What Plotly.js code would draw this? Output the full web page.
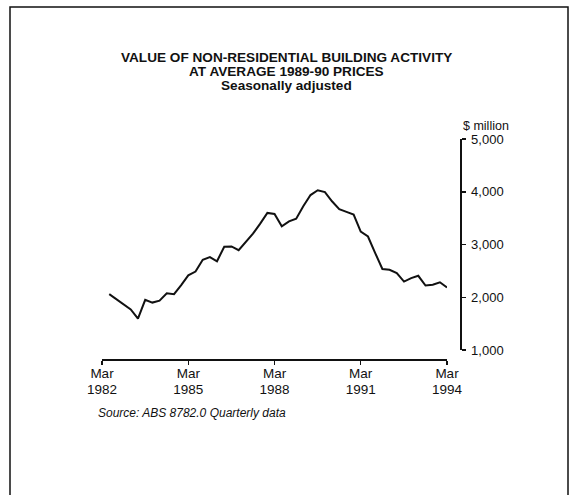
<!DOCTYPE html>
<html>
<head>
<meta charset="utf-8">
<script src="https://cdn.plot.ly/plotly-3.0.1.min.js"></script>
<style>
  html, body { margin: 0; padding: 0; background: #fff; }
  #chart { width: 573px; height: 495px; }
</style>
</head>
<body>
<div id="chart"></div>
<script>
// Quarterly dates (Jun 1982 .. Mar 1994)
const quarters = [
  '1982-06','1982-09','1982-12',
  '1983-03','1983-06','1983-09','1983-12',
  '1984-03','1984-06','1984-09','1984-12',
  '1985-03','1985-06','1985-09','1985-12',
  '1986-03','1986-06','1986-09','1986-12',
  '1987-03','1987-06','1987-09','1987-12',
  '1988-03','1988-06','1988-09','1988-12',
  '1989-03','1989-06','1989-09','1989-12',
  '1990-03','1990-06','1990-09','1990-12',
  '1991-03','1991-06','1991-09','1991-12',
  '1992-03','1992-06','1992-09','1992-12',
  '1993-03','1993-06','1993-09','1993-12',
  '1994-03'
];
// Value of non-residential building activity, $ million (1989-90 prices)
const values = [
  2059, 1964, 1855,
  1770, 1595, 1951, 1899,
  1935, 2074, 2059, 2230,
  2416, 2487, 2711, 2762,
  2682, 2958, 2964, 2892,
  3053, 3205, 3395, 3599,
  3580, 3344, 3439, 3490,
  3724, 3937, 4028, 3994,
  3819, 3671, 3618, 3566,
  3243, 3152, 2838, 2536,
  2521, 2458, 2298, 2363,
  2407, 2222, 2236, 2283,
  2184
];
const xTickVals = ['1982-03','1985-03','1988-03','1991-03','1994-03'];
const xTickMonths = ['Mar','Mar','Mar','Mar','Mar'];
const xTickYears = ['1982','1985','1988','1991','1994'];
const yTickVals = [1000, 2000, 3000, 4000, 5000];
const titleLines = [
  '<b>VALUE OF NON-RESIDENTIAL BUILDING ACTIVITY</b>',
  '<b>AT AVERAGE 1989-90 PRICES</b>',
  '<b>Seasonally adjusted</b>'
];

const ink = '#111111';
const font = 'Liberation Sans, Arial, Helvetica, sans-serif';

// geometry helpers (pixel -> paper fraction)
const L = 102, R = 460, T = 139, B = 400;
const px = x => (x - L) / (R - L);
const py = y => (B - y) / (B - T);

const trace = {
  x: quarters.map(q => q + '-01'),
  y: values,
  type: 'scatter',
  mode: 'lines',
  line: { color: ink, width: 2 },
  hoverinfo: 'x+y'
};
// invisible helper traces so the label-only x axes are drawn
const helper = ax => ({
  x: [xTickVals[0] + '-01'],
  y: [null],
  xaxis: ax,
  type: 'scatter',
  mode: 'lines',
  hoverinfo: 'skip'
});

const xCommon = {
  type: 'date',
  domain: [0, px(447)],
  anchor: 'free',
  range: ['1982-03-01', '1994-03-01'],
  tickmode: 'array',
  tickvals: xTickVals.map(d => d + '-01'),
  showgrid: false,
  zeroline: false,
  tickfont: { family: font, size: 13.5, color: ink }
};

const layout = {
  width: 573,
  height: 495,
  margin: { l: L, r: 573 - R, t: T, b: 495 - B, pad: 0 },
  paper_bgcolor: '#ffffff',
  plot_bgcolor: 'rgba(0,0,0,0)',
  showlegend: false,
  font: { family: font, color: ink, size: 13 },
  xaxis: Object.assign({}, xCommon, {
    position: py(359),
    showticklabels: false,
    ticks: 'outside',
    ticklen: 4,
    tickwidth: 1.5,
    tickcolor: ink,
    showline: true,
    linecolor: ink,
    linewidth: 1.5
  }),
  xaxis2: Object.assign({}, xCommon, {
    overlaying: 'x',
    position: py(363),
    ticktext: xTickMonths,
    ticks: '',
    showline: false
  }),
  xaxis3: Object.assign({}, xCommon, {
    overlaying: 'x',
    position: py(379),
    ticktext: xTickYears,
    ticks: '',
    showline: false
  }),
  yaxis: {
    domain: [py(350), 1],
    anchor: 'free',
    position: 1,
    side: 'right',
    range: [1000, 5000],
    tickmode: 'array',
    tickvals: yTickVals,
    tickformat: ',d',
    ticks: 'outside',
    ticklen: 4,
    tickwidth: 1.5,
    tickcolor: ink,
    ticklabelstandoff: 3,
    showline: true,
    linecolor: ink,
    linewidth: 1.5,
    showgrid: false,
    zeroline: false,
    tickfont: { family: font, size: 13, color: ink }
  },
  annotations: titleLines.map((t, i) => ({
    text: t,
    xref: 'paper', yref: 'paper',
    x: px(286.5), xanchor: 'center',
    y: py(57 + 14 * i), yanchor: 'middle',
    showarrow: false,
    font: { family: font, size: 13.6, color: ink }
  })).concat([
    {
      text: '$ million',
      xref: 'paper', yref: 'paper',
      x: 1, xanchor: 'left', xshift: 1,
      y: py(125.5), yanchor: 'middle',
      showarrow: false,
      font: { family: font, size: 12.5, color: ink }
    },
    {
      text: '<i>Source: ABS 8782.0 Quarterly data</i>',
      xref: 'paper', yref: 'paper',
      x: px(96), xanchor: 'left',
      y: py(412.5), yanchor: 'middle',
      showarrow: false,
      font: { family: font, size: 12, color: ink }
    }
  ]),
  shapes: [
    {
      type: 'rect',
      xref: 'paper', yref: 'paper',
      x0: px(10), x1: px(568),
      y0: py(505), y1: py(7),
      line: { color: ink, width: 1.5 },
      fillcolor: 'rgba(0,0,0,0)'
    }
  ]
};

Plotly.newPlot('chart', [trace, helper('x2'), helper('x3')], layout, { displayModeBar: false, staticPlot: true });
</script>
</body>
</html>
